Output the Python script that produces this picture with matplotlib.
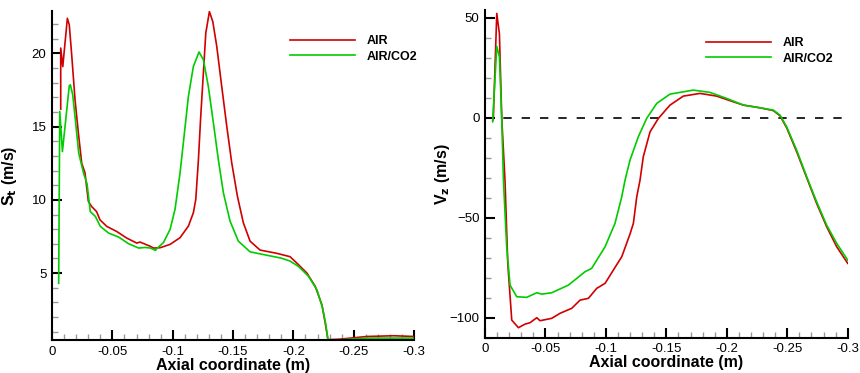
import matplotlib
matplotlib.use("Agg")
import matplotlib.pyplot as plt
from matplotlib.ticker import MultipleLocator, FuncFormatter

plt.rcParams['font.family'] = ['Liberation Sans', 'DejaVu Sans']

# S_t (m/s) along axial coordinate
st_air_x = [-0.0072, -0.0072, -0.0089, -0.0127, -0.0143, -0.0163, -0.0191, -0.0218, -0.0246,
            -0.0273, -0.0301, -0.0328, -0.0369, -0.0397, -0.0453, -0.0536, -0.0619, -0.0702,
            -0.0729, -0.0784, -0.0812, -0.0840, -0.0895, -0.0978, -0.1061, -0.1130, -0.1171,
            -0.1191, -0.1213, -0.1232, -0.1254, -0.1274, -0.1304, -0.1332, -0.1365, -0.1406,
            -0.1448, -0.1489, -0.1536, -0.1585, -0.1641, -0.1724, -0.1862, -0.1972, -0.2029,
            -0.2112, -0.2181, -0.2236, -0.2264, -0.2286, -0.2388, -0.2609, -0.2830, -0.3000]
st_air_y = [16.2, 20.37, 19.1, 22.4, 21.95, 19.9, 16.8, 14.6, 12.5,
            11.85, 9.9, 9.55, 9.2, 8.64, 8.19, 7.84, 7.39, 7.05,
            7.12, 6.93, 6.84, 6.71, 6.73, 6.96, 7.42, 8.21, 9.12,
            10.03, 12.75, 15.7, 18.66, 21.39, 22.86, 22.18, 20.48, 17.75,
            15.02, 12.53, 10.25, 8.44, 7.18, 6.57, 6.35, 6.12, 5.68,
            5.0, 4.09, 2.84, 1.58, 0.45, 0.49, 0.67, 0.72, 0.67]

st_co2_x = [-0.0055, -0.0064, -0.0086, -0.0143, -0.0152, -0.0171, -0.0193, -0.0221, -0.0262,
            -0.0290, -0.0317, -0.0359, -0.0400, -0.0469, -0.0552, -0.0635, -0.0718, -0.0773,
            -0.0815, -0.0857, -0.0867, -0.0923, -0.0978, -0.1019, -0.1061, -0.1097, -0.1130,
            -0.1171, -0.1218, -0.1254, -0.1295, -0.1337, -0.1378, -0.1420, -0.1475, -0.1544,
            -0.1641, -0.1779, -0.1900, -0.1972, -0.2043, -0.2126, -0.2195, -0.2242, -0.2269,
            -0.2286, -0.2350, -0.2609, -0.3000]
st_co2_y = [4.3, 16.05, 13.3, 17.8, 17.86, 17.2, 15.5, 13.2, 11.8,
            11.1, 9.2, 8.87, 8.19, 7.73, 7.46, 7.0, 6.71, 6.75,
            6.71, 6.55, 6.66, 7.08, 7.98, 9.35, 11.85, 14.57, 17.07,
            19.11, 20.1, 19.57, 17.75, 15.26, 12.75, 10.48, 8.55, 7.18,
            6.45, 6.22, 6.02, 5.82, 5.45, 4.77, 3.86, 2.61, 1.47,
            0.45, 0.42, 0.56, 0.56]

# V_z (m/s) along axial coordinate
vz_air_x = [-0.0064, -0.0069, -0.0097, -0.0119, -0.0138, -0.0165, -0.0188, -0.0221, -0.0276,
            -0.0331, -0.0372, -0.0428, -0.0455, -0.0552, -0.0620, -0.0717, -0.0786, -0.0855,
            -0.0924, -0.0993, -0.1089, -0.1131, -0.1200, -0.1227, -0.1255, -0.1282, -0.1309,
            -0.1365, -0.1434, -0.1530, -0.1640, -0.1778, -0.1916, -0.2054, -0.2137, -0.2275,
            -0.2385, -0.2440, -0.2495, -0.2578, -0.2661, -0.2743, -0.2826, -0.2909, -0.3000]
vz_air_y = [-1.2, 0.5, 52.2, 42.0, 0.0, -31.2, -72.8, -101.2, -105.0,
            -103.2, -102.5, -100.0, -101.5, -100.3, -97.8, -95.3, -91.2, -90.3,
            -85.3, -82.8, -73.5, -69.5, -58.0, -52.8, -39.5, -31.2, -19.5,
            -7.0, -0.3, 6.35, 10.85, 12.2, 10.85, 8.0, 6.35, 5.0,
            3.6, 1.0, -5.0, -17.0, -30.0, -42.8, -54.5, -64.5, -72.8]

vz_co2_x = [-0.0063, -0.0097, -0.0119, -0.0138, -0.0152, -0.0179, -0.0207, -0.0262, -0.0345,
            -0.0428, -0.0469, -0.0552, -0.0689, -0.0827, -0.0882, -0.0993, -0.1075, -0.1131,
            -0.1158, -0.1199, -0.1268, -0.1337, -0.1420, -0.1530, -0.1723, -0.1861, -0.1999,
            -0.2137, -0.2275, -0.2385, -0.2440, -0.2495, -0.2578, -0.2661, -0.2743, -0.2826,
            -0.2909, -0.3000]
vz_co2_y = [-2.0, 35.8, 30.5, 0.0, -31.2, -64.5, -83.7, -89.5, -89.8,
            -87.5, -88.2, -87.5, -83.7, -77.0, -75.3, -64.5, -52.8, -39.5,
            -31.2, -21.2, -9.5, -0.3, 7.2, 11.85, 13.85, 12.7, 9.7,
            6.35, 5.0, 3.85, 1.35, -4.5, -16.2, -29.5, -42.0, -53.7,
            -62.8, -71.2]

x_ticks = [0, -0.05, -0.1, -0.15, -0.2, -0.25, -0.3]

red = '#d00000'
green = '#00cc00'


def fmt(v, pos):
    if abs(v) < 1e-9:
        return '0'
    return ('%g' % v)


def style(ax, ymaj, ymin, leg_x, leg_y):
    for s in ['top', 'right']:
        ax.spines[s].set_visible(False)
    for s in ['left', 'bottom']:
        ax.spines[s].set_linewidth(1.5)
    ax.set_xlim(0, -0.3)
    ax.set_xticks(x_ticks)
    ax.xaxis.set_major_formatter(FuncFormatter(fmt))
    ax.xaxis.set_minor_locator(MultipleLocator(0.01))
    ax.yaxis.set_major_locator(MultipleLocator(ymaj))
    ax.yaxis.set_minor_locator(MultipleLocator(ymin))
    ax.tick_params(which='major', direction='in', length=7, width=1.5, color='black',
                   labelsize=9.5, pad=4)
    ax.tick_params(which='minor', direction='in', length=4, width=1, color='#999999')
    ax.tick_params(top=False, right=False, which='both')
    ax.set_xlabel('Axial coordinate (m)', fontsize=11.5, fontweight='bold', labelpad=0)
    ax.yaxis.set_label_coords(-0.092, 0.5)
    ax.legend(loc='upper right', bbox_to_anchor=(leg_x, leg_y), frameon=False,
              prop={'weight': 'bold', 'size': 9}, handlelength=5.2,
              handletextpad=0.9, labelspacing=0.25)


fig = plt.figure(figsize=(8.6, 3.73), dpi=100)
ax1 = fig.add_axes([0.0605, 0.0885, 0.421, 0.882])
ax2 = fig.add_axes([0.564, 0.0946, 0.4217, 0.879])

ax1.plot(st_air_x, st_air_y, color=red, lw=1.2, label='AIR')
ax1.plot(st_co2_x, st_co2_y, color=green, lw=1.2, label='AIR/CO2')
ax1.set_ylim(0.43, 22.9)
ax1.set_ylabel('S$_\\mathbf{t}$ (m/s)', fontsize=11.5, fontweight='bold')
style(ax1, 5, 1, 1.04, 0.96)

ax2.axhline(0, color='black', lw=1.2, ls=(0, (5, 6)), xmin=0, xmax=1)
ax2.plot(vz_air_x, vz_air_y, color=red, lw=1.2, label='AIR')
ax2.plot(vz_co2_x, vz_co2_y, color=green, lw=1.2, label='AIR/CO2')
ax2.set_ylim(-110, 54)
ax2.set_ylabel('V$_\\mathbf{z}$ (m/s)', fontsize=11.5, fontweight='bold')
style(ax2, 50, 10, 0.99, 0.95)

fig.savefig('out.png', dpi=100)
